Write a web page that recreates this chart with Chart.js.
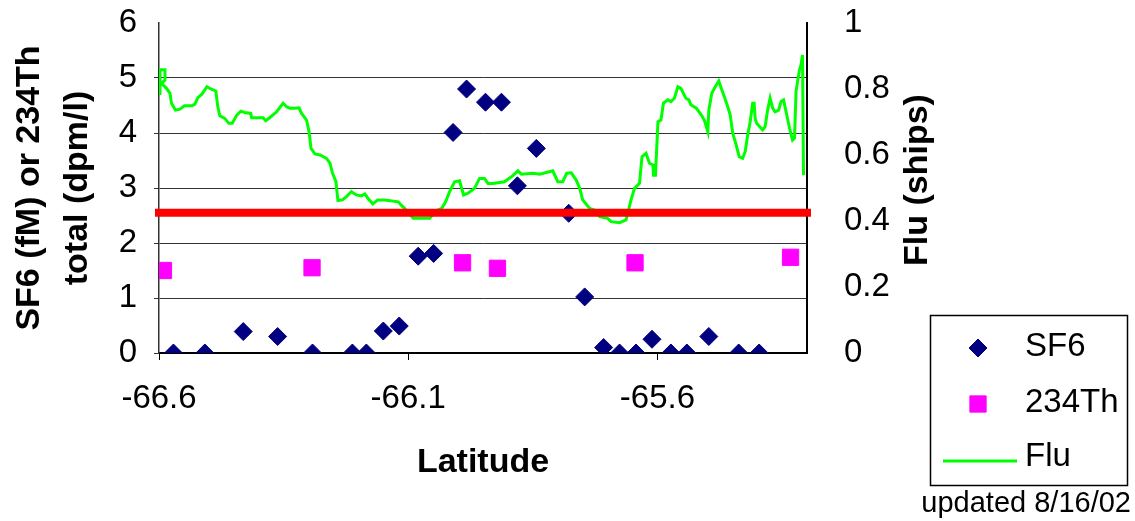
<!DOCTYPE html>
<html><head><meta charset="utf-8">
<script src="https://cdn.jsdelivr.net/npm/chart.js@4/dist/chart.umd.min.js"></script>
<style>html,body{margin:0;padding:0;background:#fff;}#wrap{width:1135px;height:521px;position:relative;}</style>
</head><body><div id="wrap"><canvas id="c" width="1135" height="521"></canvas></div>
<script>
const xTicks = [-66.6, -66.1, -65.6];
const xTickLabels = ['-66.6', '-66.1', '-65.6'];
const xMin = -66.6, xMax = -65.3;
const leftTickLabels = ['0','1','2','3','4','5','6'];
const rightTickLabels = ['0','0.2','0.4','0.6','0.8','1'];
const leftTitle = ['SF6 (fM) or 234Th', 'total (dpm/l)'];
const rightTitle = 'Flu (ships)';
const xTitle = 'Latitude';
const noteText = 'updated 8/16/02';
const seriesNames = ['SF6', '234Th', 'Flu'];
const thresholdValue = 2.55;

const sf6Lat = [-66.571,-66.508,-66.431,-66.362,-66.292,-66.212,-66.184,-66.150,-66.118,-66.080,-66.049,-66.010,-65.983,-65.945,-65.913,-65.881,-65.843,-65.778,-65.746,-65.708,-65.676,-65.643,-65.611,-65.573,-65.541,-65.497,-65.437,-65.396];
const sf6Val = [0,0,0.39,0.30,0,0,0,0.40,0.49,1.76,1.81,4.01,4.80,4.56,4.56,3.04,3.72,2.54,1.02,0.10,0,0,0.25,0,0,0.30,0,0];

const thLat = [-66.591,-66.293,-65.991,-65.921,-65.645,-65.333];
const thVal = [1.50,1.55,1.64,1.54,1.64,1.74];

const fluLat = [-66.598,-66.598,-66.588,-66.588,-66.595,-66.585,-66.578,-66.575,-66.567,-66.558,
-66.549,-66.534,-66.528,-66.522,-66.514,-66.504,-66.496,-66.486,-66.482,-66.478,
-66.468,-66.460,-66.453,-66.444,-66.436,-66.428,-66.416,-66.414,-66.391,-66.386,
-66.378,-66.364,-66.351,-66.344,-66.337,-66.327,-66.319,-66.314,-66.304,-66.299,
-66.295,-66.287,-66.277,-66.264,-66.257,-66.252,-66.245,-66.243,-66.241,-66.232,
-66.224,-66.214,-66.204,-66.194,-66.187,-66.181,-66.171,-66.161,-66.150,-66.140,
-66.120,-66.114,-66.104,-66.090,-66.057,-66.044,-66.033,-66.025,-66.017,-66.007,
-65.997,-65.989,-65.980,-65.967,-65.957,-65.947,-65.940,-65.930,-65.907,-65.893,
-65.880,-65.873,-65.850,-65.836,-65.810,-65.800,-65.790,-65.782,-65.773,-65.763,
-65.756,-65.750,-65.736,-65.726,-65.716,-65.700,-65.693,-65.676,-65.663,-65.653,
-65.646,-65.636,-65.631,-65.623,-65.616,-65.609,-65.608,-65.604,-65.599,-65.593,
-65.588,-65.579,-65.573,-65.566,-65.559,-65.553,-65.543,-65.537,-65.533,-65.522,
-65.512,-65.506,-65.499,-65.497,-65.491,-65.484,-65.477,-65.472,-65.466,-65.459,
-65.454,-65.449,-65.442,-65.436,-65.429,-65.424,-65.419,-65.414,-65.409,-65.406,
-65.404,-65.401,-65.389,-65.384,-65.379,-65.374,-65.369,-65.364,-65.357,-65.352,
-65.347,-65.342,-65.335,-65.329,-65.325,-65.322,-65.319,-65.315,-65.312,-65.309,
-65.307];
const fluVal = [0.782,0.858,0.858,0.827,0.817,0.802,0.787,0.757,0.736,0.739,
0.749,0.749,0.754,0.774,0.784,0.807,0.800,0.794,0.746,0.719,
0.711,0.696,0.696,0.721,0.733,0.729,0.726,0.713,0.713,0.704,
0.713,0.731,0.757,0.746,0.742,0.742,0.743,0.726,0.706,0.671,
0.620,0.603,0.600,0.590,0.575,0.545,0.519,0.489,0.462,0.464,
0.474,0.489,0.479,0.476,0.482,0.469,0.452,0.464,0.464,0.462,
0.458,0.448,0.433,0.408,0.408,0.431,0.438,0.458,0.489,0.519,
0.522,0.479,0.484,0.499,0.529,0.529,0.514,0.514,0.519,0.534,
0.552,0.542,0.545,0.542,0.552,0.519,0.519,0.545,0.546,0.524,
0.499,0.464,0.438,0.433,0.413,0.408,0.398,0.395,0.403,0.464,
0.499,0.514,0.595,0.605,0.575,0.570,0.539,0.539,0.701,0.706,
0.757,0.767,0.762,0.772,0.807,0.802,0.772,0.767,0.752,0.742,
0.721,0.706,0.671,0.736,0.787,0.807,0.824,0.802,0.777,0.746,
0.721,0.666,0.630,0.595,0.590,0.610,0.661,0.701,0.757,0.757,
0.711,0.696,0.676,0.686,0.736,0.772,0.742,0.731,0.736,0.762,
0.767,0.731,0.681,0.645,0.651,0.792,0.822,0.858,0.873,0.903,
0.539];

const zip = (xs, ys) => xs.map((x, i) => ({x, y: ys[i]}));
const FONT = "'Liberation Sans', Arial, sans-serif";
Chart.defaults.font.family = FONT;
Chart.defaults.color = '#000';

function drawMarker(ctx, style, x, y, r) {
  if (style === 'rectRot') {
    ctx.moveTo(x - r, y); ctx.lineTo(x, y - r); ctx.lineTo(x + r, y); ctx.lineTo(x, y + r); ctx.closePath();
  } else {
    const s = Math.SQRT1_2 * r;
    ctx.rect(x - s, y - s, 2 * s, 2 * s);
  }
}

const legendPlugin = {
  id: 'customLegend',
  afterDraw(chart) {
    const ctx = chart.ctx;
    const ds = chart.data.datasets;
    ctx.save();
    ctx.font = "bold 34px " + FONT;
    ctx.fillStyle = '#000';
    ctx.textAlign = 'center';
    ctx.textBaseline = 'middle';
    ctx.translate(918, 180);
    ctx.rotate(-Math.PI / 2);
    ctx.fillText(rightTitle, 0, 0);
    ctx.restore();

    ctx.save();
    ctx.strokeStyle = '#000';
    ctx.lineWidth = 1.5;
    ctx.strokeRect(930.5, 315.5, 197, 170);
    ctx.font = "33px " + FONT;
    ctx.textAlign = 'left';
    ctx.textBaseline = 'middle';
    const items = [
      {ds: ds[1], y: 347},
      {ds: ds[2], y: 403},
      {ds: ds[3], y: 457}
    ];
    items.forEach(it => {
      const d = it.ds;
      if (d.showLine) {
        ctx.strokeStyle = d.borderColor;
        ctx.lineWidth = d.borderWidth;
        ctx.beginPath();
        ctx.moveTo(943, it.y + 4);
        ctx.lineTo(1017, it.y + 4);
        ctx.stroke();
      } else {
        ctx.fillStyle = d.backgroundColor;
        ctx.strokeStyle = d.borderColor;
        ctx.lineWidth = d.borderWidth;
        ctx.beginPath();
        drawMarker(ctx, d.pointStyle, 978, it.y + 1, d.pointRadius);
        ctx.fill();
        ctx.stroke();
      }
      ctx.fillStyle = '#000';
      ctx.fillText(d.label, 1025, it.y);
    });
    ctx.font = "29px " + FONT;
    ctx.textAlign = 'right';
    ctx.fillText(noteText, 1131, 504);
    ctx.restore();
  }
};

new Chart(document.getElementById('c'), {
  type: 'scatter',
  data: {
    datasets: [
      {
        label: 'threshold', data: [{x: xMin, y: thresholdValue}, {x: xMax, y: thresholdValue}],
        showLine: true, borderColor: '#ff0000', borderWidth: 8, pointRadius: 0,
        borderCapStyle: 'square', clip: false, yAxisID: 'y', order: 0
      },
      {
        label: seriesNames[0], data: zip(sf6Lat, sf6Val), pointStyle: 'rectRot', pointRadius: 9,
        backgroundColor: '#000080', borderColor: '#000080', borderWidth: 1, yAxisID: 'y', order: 1
      },
      {
        label: seriesNames[1], data: zip(thLat, thVal), pointStyle: 'rect', pointRadius: 11.5,
        backgroundColor: '#ff00ff', borderColor: '#ff00ff', borderWidth: 1, yAxisID: 'y', order: 2
      },
      {
        label: seriesNames[2], data: zip(fluLat, fluVal), showLine: true, borderColor: '#00ff00',
        backgroundColor: '#00ff00', borderWidth: 3, pointRadius: 0, tension: 0, yAxisID: 'y2', order: 3
      }
    ]
  },
  options: {
    responsive: false, animation: false, devicePixelRatio: 1,
    layout: {padding: {left: 0, right: 228, top: 23, bottom: 0}},
    plugins: {legend: {display: false}, tooltip: {enabled: false}},
    scales: {
      x: {
        type: 'linear', min: xMin, max: xMax, position: 'bottom',
        afterBuildTicks: s => { s.ticks = xTicks.map(v => ({value: v})); },
        afterFit: s => { s.height = 168; },
        ticks: {font: {size: 33}, padding: 19, maxRotation: 0, autoSkip: false,
          callback: (v, i) => xTickLabels[i]},
        grid: {drawOnChartArea: false, drawTicks: true, tickLength: 7, color: '#000', lineWidth: 1},
        border: {display: true, color: '#000', width: 2},
        title: {display: true, text: xTitle, font: {size: 34, weight: 'bold'}, padding: {top: 0, bottom: 38}}
      },
      y: {
        type: 'linear', min: 0, max: 6, position: 'left',
        afterFit: s => { s.width = 159; s.paddingTop = 0; s.paddingBottom = 0; },
        ticks: {stepSize: 1, font: {size: 33}, padding: 17, callback: (v) => leftTickLabels[Math.round(v)]},
        grid: {color: ctx => (ctx.tick && ctx.tick.value === 6) ? 'rgba(0,0,0,0)' : '#333', lineWidth: 1, tickLength: 5},
        border: {display: true, color: '#333', width: 1.5},
        title: {display: true, text: leftTitle, font: {size: 34, weight: 'bold', lineHeight: 1.42}, padding: {top: 5, bottom: 0}}
      },
      y2: {
        type: 'linear', min: 0, max: 1, position: 'right',
        afterFit: s => { s.width = 100; s.paddingTop = 0; s.paddingBottom = 0; },
        ticks: {stepSize: 0.2, font: {size: 33}, padding: 29, callback: (v) => rightTickLabels[Math.round(v * 5)]},
        grid: {display: false, drawOnChartArea: false},
        border: {display: true, color: '#000', width: 2}
      }
    }
  },
  plugins: [legendPlugin]
});
</script>
</body></html>
